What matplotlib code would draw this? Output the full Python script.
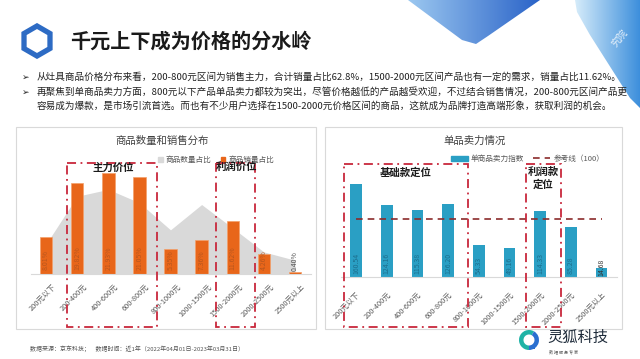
import numpy as np
import matplotlib
matplotlib.use("Agg")
import matplotlib.pyplot as plt
from matplotlib.patches import Rectangle, RegularPolygon, Polygon, Wedge, Patch
from matplotlib.lines import Line2D
import matplotlib.transforms as mtransforms

plt.rcParams['font.family'] = ['Noto Sans CJK SC', 'DejaVu Sans']

# ---------------- data ----------------
categories = ["200元以下", "200-400元", "400-600元", "600-800元", "800-1000元",
              "1000-1500元", "1500-2000元", "2000-2500元", "2500元以上"]
count_share = [6.5, 16.9, 18.4, 15.5, 9.6, 15.1, 10.0, 4.8, 3.0]          # 商品数量占比 (%)
sales_share = [8.01, 19.82, 21.93, 21.05, 5.35, 7.36, 11.62, 4.26, 0.40]  # 商品销量占比 (%)
power_index = [160.54, 124.16, 115.38, 126.20, 54.33, 49.16, 114.33, 85.28, 14.68]  # 单商品卖力指数
ref_value = 100

title = "千元上下成为价格的分水岭"
bullets = [
    "从灶具商品价格分布来看，200-800元区间为销售主力，合计销量占比62.8%，1500-2000元区间产品也有一定的需求，销量占比11.62%。",
    "再聚焦到单商品卖力方面，800元以下产品单品卖力都较为突出，尽管价格越低的产品越受欢迎，不过结合销售情况，200-800元区间产品更",
    "容易成为爆款，是市场引流首选。而也有不少用户选择在1500-2000元价格区间的商品，这就成为品牌打造高端形象，获取利润的机会。",
]

ORANGE = '#E8661A'
GRAY = '#D9D9D9'
TEAL = '#2A9FC4'
BOXRED = '#C8283C'

W, H = 640, 359
fig = plt.figure(figsize=(6.4, 3.59), dpi=100)

# background pixel-coordinate axes
bg = fig.add_axes([0, 0, 1, 1], zorder=0)
bg.set_xlim(0, W); bg.set_ylim(H, 0); bg.axis('off')

# decorative shapes top-right with gradient
def grad_poly(ax, pts, c1, c2, z=1):
    poly = Polygon(pts, closed=True, facecolor='none', edgecolor='none')
    ax.add_patch(poly)
    xs = [p[0] for p in pts]; ys = [p[1] for p in pts]
    g = np.linspace(0, 1, 256).reshape(1, -1)
    cmap = matplotlib.colors.LinearSegmentedColormap.from_list('g', [c1, c2])
    im = ax.imshow(g, extent=(min(xs), max(xs), max(ys), min(ys)), cmap=cmap,
                   aspect='auto', zorder=z)
    im.set_clip_path(poly)

grad_poly(bg, [(408, 0), (540, 0), (488, 36), (476, 44), (462, 40)], '#9cc8f0', '#2a63c8')
grad_poly(bg, [(575, 0), (640, 0), (640, 108), (630, 98), (590, 35), (577, 12)], '#d6ecfa', '#3d8fdc')
bg.text(620, 38, "究院", fontsize=7, color='white', rotation=50, ha='center', va='center', alpha=0.8)

# hexagon icon
bg.add_patch(RegularPolygon((37, 41), numVertices=6, radius=15, orientation=0,
                            facecolor='white', edgecolor='#2d6bc4', linewidth=3.8, zorder=3))
bg.text(70, 41, title, fontsize=14.5, fontweight='bold', va='center', ha='left', color='#1a1a1a')

# bullets
ys = [77, 92, 106]
for i, (y, t) in enumerate(zip(ys, bullets)):
    if i < 2:
        bg.text(22, y, "➢", fontsize=6.5, va='center', ha='left', color='#222222',
                family=['DejaVu Sans'])
    bg.text(37, y, t, fontsize=6.9, va='center', ha='left', color='#222222')

# panels
bg.add_patch(Rectangle((16, 127), 300, 202, facecolor='white', edgecolor='#D9D9D9', lw=0.8))
bg.add_patch(Rectangle((325, 127), 297, 202, facecolor='white', edgecolor='#D9D9D9', lw=0.8))
bg.text(162, 141, "商品数量和销售分布", fontsize=7.5, ha='center', va='center', color='#404040')
bg.text(475, 141, "单品卖力情况", fontsize=7.5, ha='center', va='center', color='#404040')

# footer
bg.text(30, 349, "数据来源：京东科技；    数据时间：近1年（2022年04月01日-2023年03月31日）",
        fontsize=4.3, ha='left', va='center', color='#555555')
bg.add_patch(Wedge((529, 340), 10, 90, 300, width=4.5, facecolor='#1fb3a6', edgecolor='none'))
bg.add_patch(Wedge((529, 340), 10, 300, 450, width=4.5, facecolor='#2a6fd0', edgecolor='none'))
bg.add_patch(Rectangle((531, 345), 4, 4, facecolor='#2a6fd0', edgecolor='none'))
bg.text(547, 337, "灵狐科技", fontsize=11, ha='left', va='center', color='#1e2b3a')
bg.text(549, 352, "数 据 服 务 专 家", fontsize=3, ha='left', va='center', color='#555555')

x = np.arange(len(categories))

# ---------------- left chart ----------------
axL = fig.add_axes([30.5 / W, (H - 274) / H, 280 / W, 115 / H], zorder=2)
axL.patch.set_alpha(0)
axL.fill_between(x, count_share, 0, color=GRAY, zorder=1, linewidth=0)
axL.bar(x, sales_share, width=0.4, color=ORANGE, edgecolor='#F4A06A', linewidth=0.5, zorder=2)
axL.set_xlim(-0.5, len(x) - 0.5)
axL.set_ylim(0, 25)
axL.set_yticks([])
for s in ['top', 'right', 'left']:
    axL.spines[s].set_visible(False)
axL.spines['bottom'].set_color('#D9D9D9')
axL.set_xticks(x)
axL.set_xticklabels(categories, rotation=45, ha='right', va='top', rotation_mode='anchor',
                    fontsize=5.3, color='#595959')
axL.tick_params(axis='x', length=0, pad=6)
offL = mtransforms.ScaledTranslation(6 / 100, 0, fig.dpi_scale_trans)
for lbl in axL.get_xticklabels():
    lbl.set_transform(lbl.get_transform() + offL)
for xi, v in zip(x, sales_share):
    big = v > 3
    axL.text(xi, 0.8 if big else v + 0.3, f"{v:.2f}%", rotation=90, ha='center', va='bottom',
             fontsize=5, color='#B8561E' if big else '#555555', zorder=3)
axL.legend(handles=[Patch(color=GRAY, label='商品数量占比'), Patch(color=ORANGE, label='商品销量占比')],
           loc='center right', bbox_to_anchor=(278 / W, 1 - 160 / H), bbox_transform=fig.transFigure,
           ncol=2, frameon=False, fontsize=5.5, handlelength=0.6, handleheight=0.6,
           handletextpad=0.4, columnspacing=1.2, labelcolor='#595959', borderpad=0)

# ---------------- right chart ----------------
axR = fig.add_axes([340.65 / W, (H - 276.7) / H, 276.35 / W, 103.9 / H], zorder=2)
axR.patch.set_alpha(0)
axR.bar(x, power_index, width=0.38, color=TEAL, zorder=2)
axR.plot(x, [ref_value] * len(x), linestyle=(0, (4, 3)), color='#8B2B2B', lw=1.2, zorder=3)
axR.set_xlim(-0.5, len(x) - 0.5)
axR.set_ylim(0, 180)
axR.set_yticks([])
for s in ['top', 'right', 'left']:
    axR.spines[s].set_visible(False)
axR.spines['bottom'].set_color('#D9D9D9')
axR.set_xticks(x)
axR.set_xticklabels(categories, rotation=45, ha='right', va='top', rotation_mode='anchor',
                    fontsize=5.3, color='#595959')
axR.tick_params(axis='x', length=0, pad=10)
for xi, v in zip(x, power_index):
    big = v > 30
    axR.text(xi, 4 if big else 2, f"{v:.2f}", rotation=90, ha='center', va='bottom',
             fontsize=5, color='#1D6F8E' if big else '#333333', zorder=4)
axR.legend(handles=[Patch(color=TEAL, label='单商品卖力指数'),
                    Line2D([0], [0], linestyle=(0, (4, 3)), color='#8B2B2B', lw=1.2, label='参考线（100）')],
           loc='center right', bbox_to_anchor=(608 / W, 1 - 159 / H), bbox_transform=fig.transFigure,
           ncol=2, frameon=False, fontsize=5.5, handlelength=2.2, handleheight=0.6,
           handletextpad=0.4, columnspacing=1.2, labelcolor='#595959', borderpad=0)

# ---------------- overlay: dashed boxes and labels ----------------
top = fig.add_axes([0, 0, 1, 1], zorder=10)
top.set_xlim(0, W); top.set_ylim(H, 0); top.axis('off'); top.patch.set_alpha(0)
dash = (0, (5, 2.5, 1, 2.5))
for (x0, y0, x1, y1) in [(66.7, 163, 157.3, 327), (216, 163, 255, 327),
                         (344, 164, 468, 327), (526, 164, 561, 327)]:
    top.add_patch(Rectangle((x0, y0), x1 - x0, y1 - y0, facecolor='none', edgecolor=BOXRED,
                            lw=1.3, linestyle=dash))
top.text(113, 168, "主力价位", fontsize=7.5, fontweight='bold', ha='center', va='center', color='#1a1a1a')
top.text(236, 168, "利润价位", fontsize=7.5, fontweight='bold', ha='center', va='center', color='#1a1a1a')
top.text(406, 173, "基础款定位", fontsize=7.5, fontweight='bold', ha='center', va='center', color='#1a1a1a')
top.text(543, 178, "利润款\n定位", fontsize=7.5, fontweight='bold', ha='center', va='center',
         color='#1a1a1a', linespacing=1.3)

fig.savefig("out.png", dpi=100)
